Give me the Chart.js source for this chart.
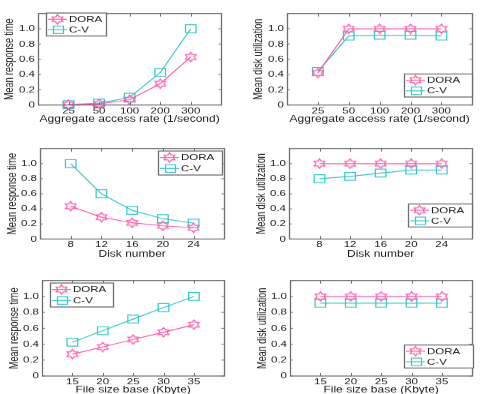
<!DOCTYPE html>
<html><head><meta charset="utf-8">
<script src="https://cdn.jsdelivr.net/npm/chart.js@4"></script>
<style>
html,body{margin:0;padding:0;background:#fff;width:500px;height:394px;overflow:hidden;}
canvas{position:absolute;transform-origin:0 0;}
</style></head><body>
<canvas id="c0"></canvas><canvas id="c1"></canvas><canvas id="c2"></canvas>
<canvas id="c3"></canvas><canvas id="c4"></canvas><canvas id="c5"></canvas>
<script>
// ---------- data ----------
const seriesNames = ['DORA', 'C-V'];
const rateLabels = ['25', '50', '100', '200', '300'];
const rateRespDora = [0.005, 0.015, 0.07, 0.28, 0.63];
const rateRespCV = [0.005, 0.025, 0.10, 0.425, 1.0];
const rateUtilDora = [0.42, 1.0, 1.0, 1.0, 1.0];
const rateUtilCV = [0.44, 0.905, 0.915, 0.915, 0.905];
const diskNumbers = [8, 12, 16, 20, 24];
const diskRespDora = [0.435, 0.29, 0.215, 0.175, 0.15];
const diskRespCV = [1.0, 0.60, 0.38, 0.27, 0.21];
const diskUtilDora = [1.0, 1.0, 1.0, 1.0, 1.0];
const diskUtilCV = [0.80, 0.83, 0.875, 0.915, 0.915];
const fileSizes = [15, 20, 25, 30, 35];
const fileRespDora = [0.275, 0.365, 0.46, 0.55, 0.645];
const fileRespCV = [0.425, 0.57, 0.715, 0.86, 1.0];
const fileUtilDora = [1.0, 1.0, 1.0, 1.0, 1.0];
const fileUtilCV = [0.915, 0.915, 0.915, 0.915, 0.915];
const yTicks = [0, 0.2, 0.4, 0.6, 0.8, 1.0];
const yTitles = ['Mean response time', 'Mean disk utilization'];
const xTitles = ['Aggregate access rate (1/second)', 'Disk number', 'File size base (Kbyte)'];

// ---------- style ----------
const PINK = '#ff55aa';
const CYAN = '#30c8c8';
const TEXT = '#1a1a1a';
const BOX = '#6e6e6e';
const FONT = "'Liberation Sans', Arial, sans-serif";
const S = 0.75;            // vertical squash of the original figure
Chart.defaults.font.family = FONT;
Chart.defaults.color = TEXT;

function makeStar(color) {
  const c = document.createElement('canvas');
  c.width = 15; c.height = 15;
  const g = c.getContext('2d');
  const cx = 7.5, cy = 7.5, R = 6.2, r = R / Math.sqrt(3);
  g.beginPath();
  for (let i = 0; i < 12; i++) {
    const a = -Math.PI / 2 + i * Math.PI / 6;
    const rr = i % 2 === 0 ? R : r;
    const px = cx + rr * Math.cos(a), py = cy + rr * Math.sin(a);
    if (i === 0) g.moveTo(px, py); else g.lineTo(px, py);
  }
  g.closePath();
  g.strokeStyle = color; g.lineWidth = 1.2; g.stroke();
  return c;
}
const starImg = makeStar(PINK);

const boxPlugin = {
  id: 'matlabBox',
  afterDraw(chart) {
    const {ctx, chartArea: a, scales} = chart;
    ctx.save();
    ctx.strokeStyle = BOX; ctx.lineWidth = 1.3;
    ctx.strokeRect(Math.round(a.left) + 0.5, a.top, Math.round(a.right - a.left), a.bottom - a.top);
    ctx.beginPath();
    ctx.lineWidth = 1;
    scales.x.ticks.forEach(t => {
      const px = Math.round(scales.x.getPixelForValue(t.value)) + 0.5;
      ctx.moveTo(px, a.bottom); ctx.lineTo(px, a.bottom - 4);
      ctx.moveTo(px, a.top); ctx.lineTo(px, a.top + 4);
    });
    scales.y.ticks.forEach(t => {
      const py = scales.y.getPixelForValue(t.value);
      ctx.moveTo(a.left, py); ctx.lineTo(a.left + 3, py);
      ctx.moveTo(a.right, py); ctx.lineTo(a.right - 3, py);
    });
    ctx.stroke();
    // legend box
    const lg = chart.options.plugins.boxLegend;
    const ox = chart.canvas.offsetLeft, oy = chart.canvas.offsetTop;
    const lx = lg.x - ox, ly = (lg.y - oy) / S, lh = lg.h / S;
    ctx.fillStyle = '#fff';
    ctx.fillRect(lx, ly, lg.w, lh);
    ctx.strokeStyle = BOX; ctx.lineWidth = 1.3;
    ctx.strokeRect(Math.round(lx) + 0.5, ly, lg.w, lh);
    ctx.font = '11.5px ' + FONT;
    ctx.textBaseline = 'middle';
    ctx.textAlign = 'left';
    chart.data.datasets.forEach((ds, i) => {
      const yy = ly + lh * (0.27 + 0.46 * i);
      const x0 = lx + 2, x1 = lx + 21, xm = (x0 + x1) / 2;
      ctx.strokeStyle = ds.borderColor; ctx.lineWidth = 1.2;
      ctx.beginPath(); ctx.moveTo(x0, yy); ctx.lineTo(x1, yy); ctx.stroke();
      if (ds.pointStyle === 'rect') {
        ctx.strokeRect(Math.round(xm - 5) + 0.5, yy - 5, 10, 10);
      } else {
        ctx.drawImage(starImg, xm - 7.5, yy - 7.5);
      }
      ctx.fillStyle = TEXT;
      ctx.fillText(ds.label, x1 + 2, yy + 0.5);
    });
    ctx.restore();
  }
};

function makePanel(id, p) {
  const lh = 12 * 1.2;
  const canvasLeft = Math.round(p.yTitleCX - lh / 2);
  const YW = p.box.l - canvasLeft;
  const PTb = 4, PR = 3;
  const T0 = p.box.t - PTb * S;
  const boxHb = (p.box.b - p.box.t) / S;
  const W = YW + (p.box.r - p.box.l) + PR;
  const Hb = Math.round(PTb + boxHb + (p.xTitleCY - p.box.b) / S + 12 * 1.2 / 2);
  const XH = Hb - PTb - boxHb;
  const cv = document.getElementById(id);
  cv.style.left = canvasLeft + 'px';
  cv.style.top = T0 + 'px';
  cv.style.width = W + 'px'; cv.style.height = Hb + 'px';
  cv.style.transform = 'scaleY(' + S + ')';
  cv.width = W; cv.height = Hb;
  const xs = p.xVals;
  const mk = (arr) => arr.map((v, i) => ({x: xs[i], y: v}));
  new Chart(cv, {
    type: 'line',
    data: {
      datasets: [
        {label: seriesNames[0], data: mk(p.dora), borderColor: PINK, backgroundColor: 'rgba(0,0,0,0)',
         borderWidth: 1.2, pointStyle: starImg, pointRadius: 6, clip: false, tension: 0},
        {label: seriesNames[1], data: mk(p.cv), borderColor: CYAN, backgroundColor: 'rgba(0,0,0,0)',
         borderWidth: 1.2, pointStyle: 'rect', pointRadius: 7.5, pointBorderWidth: 1.2, clip: false, tension: 0}
      ]
    },
    options: {
      responsive: false, animation: false, devicePixelRatio: 1,
      layout: {padding: {top: PTb, right: PR, left: 0, bottom: 0}},
      plugins: {legend: {display: false}, tooltip: {enabled: false}, boxLegend: p.legend},
      scales: {
        x: {
          type: 'linear', min: p.xMin, max: p.xMax,
          grid: {display: false, drawTicks: false}, border: {display: false},
          afterBuildTicks: s => { s.ticks = xs.map(v => ({value: v})); },
          afterFit: s => { s.height = XH; s.paddingLeft = 0; s.paddingRight = 0; s.paddingTop = 0; s.paddingBottom = 0; },
          ticks: {padding: 1, font: {size: 11.5}, color: TEXT, maxRotation: 0, autoSkip: false,
                  callback: (v) => p.xLabels[xs.indexOf(v)]},
          title: {display: true, text: p.xTitle, font: {size: 12}, color: TEXT, padding: 0}
        },
        y: {
          type: 'linear', min: 0, max: 1.2,
          grid: {display: false, drawTicks: false}, border: {display: false},
          afterBuildTicks: s => { s.ticks = yTicks.map(v => ({value: v})); },
          afterFit: s => { s.width = YW; s.paddingTop = 0; s.paddingBottom = 0; s.paddingLeft = 0; s.paddingRight = 0; },
          ticks: {padding: 3, font: {size: 11.5}, color: TEXT,
                  callback: v => v === 0 ? '0' : v.toFixed(1)},
          title: {display: true, text: p.yTitle, color: TEXT, padding: 0, font: {size: 12}}
        }
      }
    },
    plugins: [boxPlugin]
  });
}

const idx = [1, 2, 3, 4, 5];
makePanel('c0', {box: {l: 38, t: 10, r: 227, b: 105}, yTitleCX: 9.5, xTitleCY: 119,
  xVals: idx, xLabels: rateLabels, xMin: 0, xMax: 6, dora: rateRespDora, cv: rateRespCV,
  yTitle: yTitles[0], xTitle: xTitles[0], legend: {x: 46, y: 13, w: 60, h: 23}});
makePanel('c1', {box: {l: 287, t: 10, r: 478, b: 105}, yTitleCX: 258, xTitleCY: 119,
  xVals: idx, xLabels: rateLabels, xMin: 0, xMax: 6, dora: rateUtilDora, cv: rateUtilCV,
  yTitle: yTitles[1], xTitle: xTitles[0], legend: {x: 404, y: 74, w: 68, h: 23}});
makePanel('c2', {box: {l: 40, t: 145, r: 230, b: 239}, yTitleCX: 12.5, xTitleCY: 254,
  xVals: diskNumbers, xLabels: diskNumbers.map(String), xMin: 4, xMax: 28, dora: diskRespDora, cv: diskRespCV,
  yTitle: yTitles[0], xTitle: xTitles[1], legend: {x: 158, y: 151, w: 64, h: 24}});
makePanel('c3', {box: {l: 289, t: 145, r: 478, b: 239}, yTitleCX: 261, xTitleCY: 254,
  xVals: diskNumbers, xLabels: diskNumbers.map(String), xMin: 4, xMax: 28, dora: diskUtilDora, cv: diskUtilCV,
  yTitle: yTitles[1], xTitle: xTitles[1], legend: {x: 408, y: 204, w: 64, h: 23}});
makePanel('c4', {box: {l: 42, t: 277, r: 230, b: 376}, yTitleCX: 14.5, xTitleCY: 390,
  xVals: fileSizes, xLabels: fileSizes.map(String), xMin: 10, xMax: 40, dora: fileRespDora, cv: fileRespCV,
  yTitle: yTitles[0], xTitle: xTitles[2], legend: {x: 50, y: 283, w: 63, h: 24}});
makePanel('c5', {box: {l: 290, t: 277, r: 478, b: 376}, yTitleCX: 262, xTitleCY: 390,
  xVals: fileSizes, xLabels: fileSizes.map(String), xMin: 10, xMax: 40, dora: fileUtilDora, cv: fileUtilCV,
  yTitle: yTitles[1], xTitle: xTitles[2], legend: {x: 404, y: 345, w: 69, h: 23}});
</script>
</body></html>
